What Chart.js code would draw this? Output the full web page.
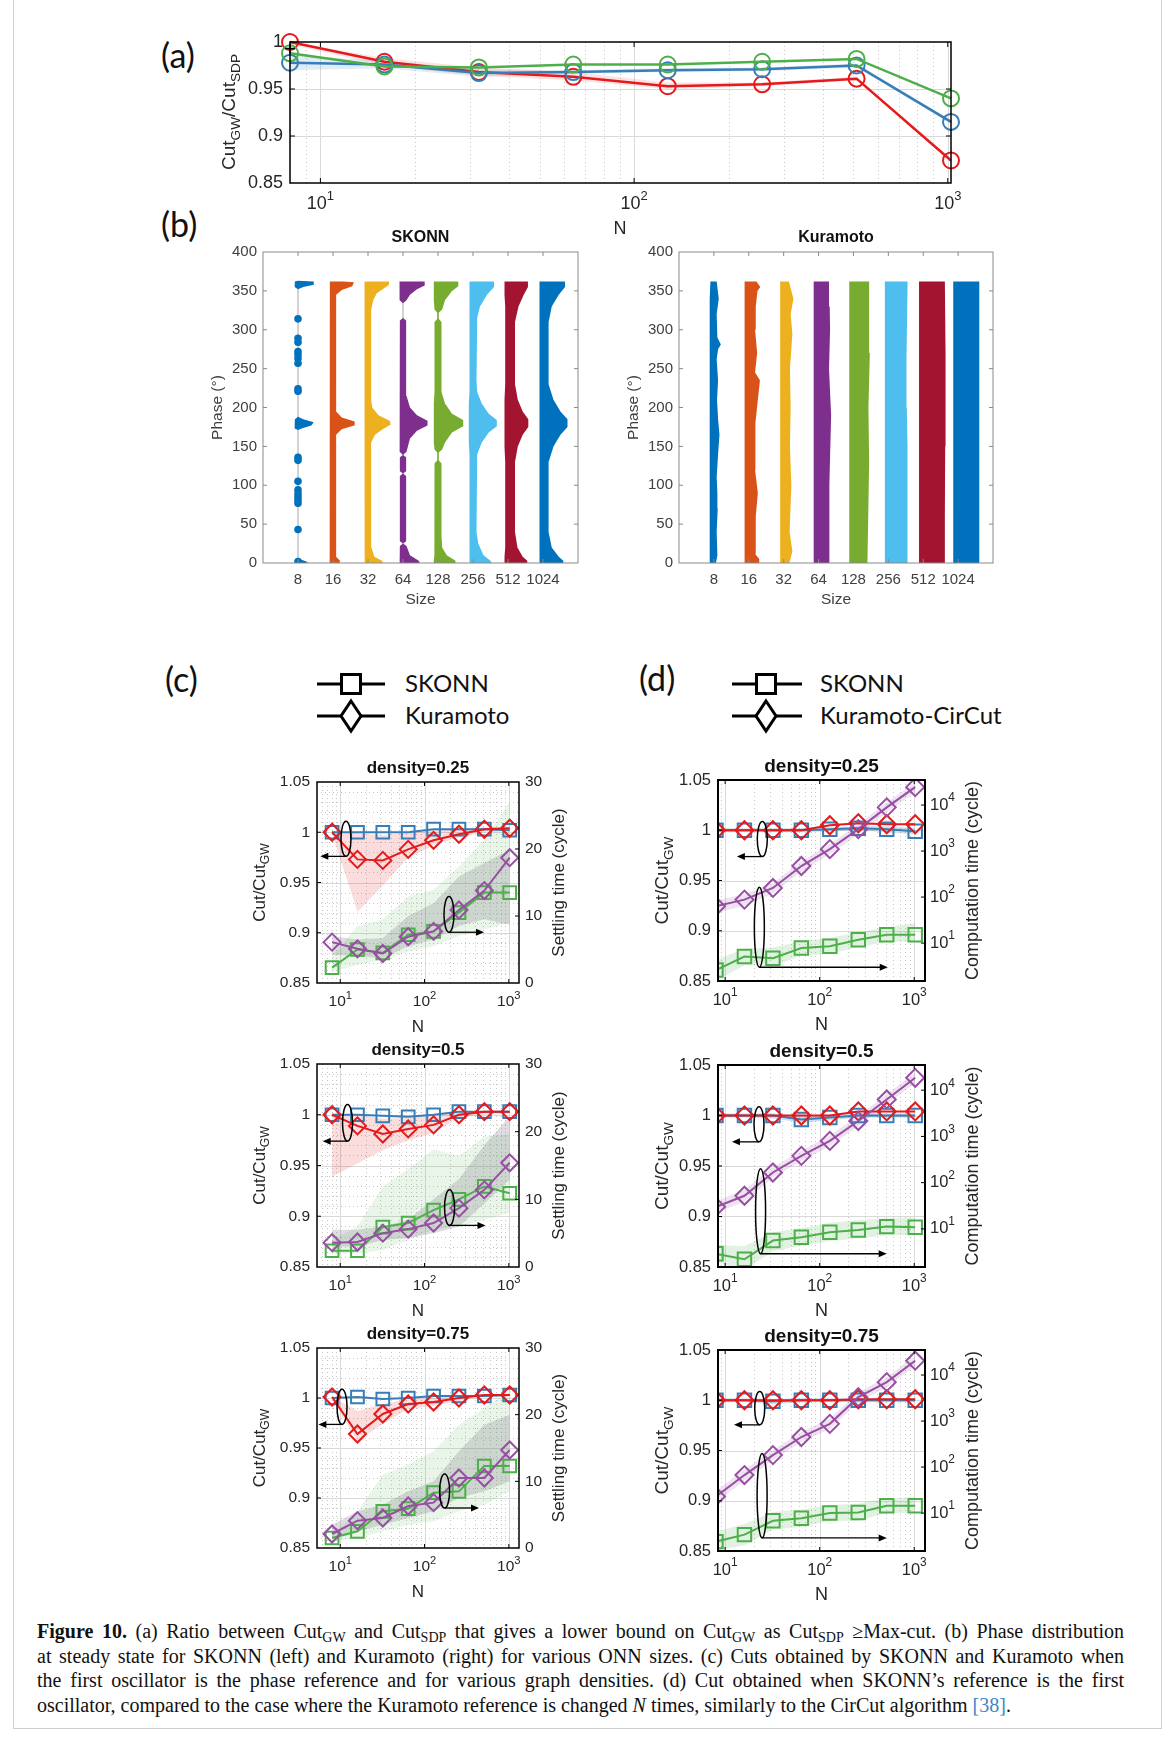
<!DOCTYPE html>
<html>
<head>
<meta charset="utf-8">
<title>Figure 10</title>
<script src="https://cdn.jsdelivr.net/npm/chart.js@4.4.1/dist/chart.umd.min.js"></script>
<style>
  body { margin: 0; background: #fff; }
  #page { position: relative; width: 1170px; height: 1737px; overflow: hidden; background: #fff; }
  #page canvas { position: absolute; }
  #border { position: absolute; left: 13px; top: -2px; width: 1149px; height: 1731px; border: 1px solid #cfcfcf; box-sizing: border-box; }
  .panel { position: absolute; font-family: Lato, 'Open Sans', sans-serif; font-size: 34px; line-height: 34px; color: #111; z-index: 5; }
  .leg { position: absolute; font-family: Lato, 'Open Sans', sans-serif; font-size: 24px; line-height: 24px; color: #111; white-space: nowrap; z-index: 5; }
  .legsym { position: absolute; z-index: 5; }
  #caption { position: absolute; left: 37px; top: 1619px; width: 1087px; font-family: 'Liberation Serif', 'Times New Roman', serif; font-size: 20px; line-height: 24.5px; color: #111; }
  #caption div { text-align: justify; text-align-last: justify; }
  #caption div.last { text-align-last: left; }
  #caption sub { font-size: 70%; line-height: 0; vertical-align: -0.25em; }
  #caption .ref { color: #3b86c6; }
</style>
</head>
<body>
<div id="page">
  <div id="border"></div>
  <div class="panel" style="left:161px;top:38px">(a)</div>
  <div class="panel" style="left:161px;top:207px">(b)</div>
  <div class="panel" style="left:165px;top:662px">(c)</div>
  <div class="panel" style="left:639px;top:661px">(d)</div>

  <svg class="legsym" style="left:314px;top:664px" width="76" height="72">
    <line x1="3" y1="20" x2="71" y2="20" stroke="#000" stroke-width="3"/>
    <rect x="27.5" y="10.5" width="19" height="19" fill="#fff" stroke="#000" stroke-width="3"/>
    <line x1="3" y1="52" x2="71" y2="52" stroke="#000" stroke-width="3"/>
    <polygon points="37,37 47,52 37,67 27,52" fill="#fff" stroke="#000" stroke-width="3"/>
  </svg>
  <div class="leg" style="left:405px;top:671px">SKONN</div>
  <div class="leg" style="left:405px;top:703px">Kuramoto</div>

  <svg class="legsym" style="left:729px;top:664px" width="76" height="72">
    <line x1="3" y1="20" x2="73" y2="20" stroke="#000" stroke-width="3"/>
    <rect x="27.5" y="10.5" width="19" height="19" fill="#fff" stroke="#000" stroke-width="3"/>
    <line x1="3" y1="52" x2="73" y2="52" stroke="#000" stroke-width="3"/>
    <polygon points="37,37 47,52 37,67 27,52" fill="#fff" stroke="#000" stroke-width="3"/>
  </svg>
  <div class="leg" style="left:820px;top:671px">SKONN</div>
  <div class="leg" style="left:820px;top:703px">Kuramoto-CirCut</div>

  <div id="caption">
    <div><b>Figure 10.</b> (a) Ratio between Cut<sub>GW</sub> and Cut<sub>SDP</sub> that gives a lower bound on Cut<sub>GW</sub> as Cut<sub>SDP</sub> ≥Max-cut. (b) Phase distribution</div>
    <div>at steady state for SKONN (left) and Kuramoto (right) for various ONN sizes. (c) Cuts obtained by SKONN and Kuramoto when</div>
    <div>the first oscillator is the phase reference and for various graph densities. (d) Cut obtained when SKONN’s reference is the first</div>
    <div class="last">oscillator, compared to the case where the Kuramoto reference is changed <i>N</i> times, similarly to the CirCut algorithm <span class="ref">[38]</span>.</div>
  </div>
</div>

<script>
// ---------- data ----------
const Ns = [8, 16, 32, 64, 128, 256, 512, 1024];
const sizeLabels = ['8', '16', '32', '64', '128', '256', '512', '1024'];
const decades = [10, 100, 1000];
const timeDecades = [10, 100, 1000, 10000];

// (a) Cut_GW / Cut_SDP
const aRed = [1.0, 0.979, 0.968, 0.963, 0.953, 0.955, 0.961, 0.874];
const aBlue = [0.978, 0.976, 0.967, 0.968, 0.970, 0.971, 0.975, 0.915];
const aGreen = [0.988, 0.974, 0.973, 0.976, 0.976, 0.979, 0.982, 0.940];
const aRedHi = [1.0, 0.983, 0.973, 0.968, 0.957, 0.957, 0.963, 0.876];
const aRedLo = [0.997, 0.975, 0.964, 0.959, 0.950, 0.953, 0.959, 0.872];
const aBlueHi = [0.986, 0.980, 0.971, 0.970, 0.972, 0.973, 0.977, 0.917];
const aBlueLo = [0.970, 0.972, 0.963, 0.966, 0.968, 0.969, 0.973, 0.913];
const aCross = [{x: 8, y: 0.993}];

// (b) phase distributions: knots [phase, left width, right width] per size
const skonnShapes = [
  [[-3,0,0],[-1,0.09,0.1],[1,0.09,0.3],[4,0.09,0.12],[6,0,0],[171,0,0],[173,0.09,0.1],[177,0.1,0.38],[181,0.1,0.45],[185,0.09,0.15],[188,0,0],[352,0,0],[355,0.09,0.15],[358,0.1,0.45],[362,0.09,0.45],[363,0,0]],
  [[-2,0.09,0.18],[3,0.09,0.2],[8,0.09,0.09],[165,0.09,0.09],[172,0.1,0.25],[177,0.1,0.6],[182,0.1,0.62],[187,0.1,0.25],[195,0.09,0.09],[345,0.09,0.09],[351,0.1,0.25],[356,0.1,0.55],[361,0.1,0.6],[362,0.09,0.3]],
  [[-2,0.1,0.45],[3,0.1,0.4],[8,0.09,0.18],[20,0.09,0.1],[36,0.09,0.09],[155,0.09,0.09],[165,0.1,0.2],[172,0.1,0.42],[178,0.1,0.65],[183,0.1,0.62],[190,0.1,0.3],[200,0.09,0.12],[210,0.09,0.09],[325,0.09,0.09],[338,0.1,0.15],[347,0.1,0.25],[353,0.1,0.45],[358,0.1,0.6],[362,0.1,0.6]],
  [[-2,0.1,0.5],[3,0.1,0.45],[10,0.09,0.2],[22,0.09,0.1],[25,0,0],[28,0.09,0.09],[112,0.09,0.09],[115,0,0],[118,0.09,0.09],[136,0.09,0.09],[139,0,0],[143,0.09,0.1],[160,0.1,0.2],[170,0.1,0.4],[177,0.1,0.7],[183,0.1,0.7],[190,0.1,0.4],[200,0.1,0.2],[215,0.09,0.1],[230,0.09,0.09],[312,0.09,0.09],[315,0,0],[334,0,0],[338,0.09,0.1],[345,0.1,0.2],[352,0.1,0.4],[357,0.1,0.62],[362,0.1,0.62]],
  [[-2,0.12,0.5],[3,0.12,0.5],[10,0.11,0.25],[20,0.1,0.12],[35,0.1,0.1],[128,0.1,0.1],[132,0.02,0.02],[142,0.02,0.02],[146,0.1,0.12],[155,0.12,0.2],[168,0.12,0.4],[176,0.12,0.72],[184,0.12,0.72],[192,0.12,0.4],[205,0.12,0.2],[220,0.1,0.1],[310,0.1,0.1],[314,0.02,0.02],[322,0.02,0.02],[326,0.1,0.12],[338,0.12,0.2],[350,0.12,0.4],[356,0.12,0.58],[362,0.12,0.58]],
  [[-2,0.1,0.55],[3,0.1,0.5],[10,0.1,0.3],[25,0.1,0.15],[40,0.1,0.1],[140,0.1,0.12],[155,0.12,0.25],[168,0.12,0.45],[176,0.12,0.68],[184,0.12,0.68],[192,0.12,0.45],[205,0.12,0.25],[220,0.1,0.12],[235,0.1,0.1],[315,0.1,0.12],[330,0.1,0.2],[345,0.1,0.4],[355,0.1,0.6],[362,0.1,0.6]],
  [[-2,0.1,0.55],[3,0.1,0.55],[8,0.1,0.42],[20,0.08,0.27],[40,0.08,0.2],[130,0.08,0.2],[150,0.1,0.28],[165,0.1,0.42],[175,0.1,0.58],[185,0.1,0.58],[195,0.1,0.42],[210,0.1,0.28],[230,0.08,0.2],[310,0.08,0.2],[330,0.08,0.3],[345,0.1,0.45],[355,0.1,0.57],[362,0.1,0.57]],
  [[-2,0.1,0.58],[3,0.1,0.58],[8,0.1,0.45],[20,0.1,0.25],[40,0.1,0.16],[130,0.1,0.16],[150,0.1,0.3],[165,0.1,0.5],[175,0.1,0.7],[185,0.1,0.7],[195,0.1,0.5],[210,0.1,0.3],[230,0.1,0.16],[310,0.1,0.16],[330,0.1,0.25],[345,0.1,0.45],[355,0.1,0.63],[362,0.1,0.63]]
];
const skonnDots = [
  [2, 43, 77, 81, 85, 89, 94, 105, 132, 136, 221, 224, 257, 263, 268, 272, 284, 289, 314],
  [], [], [], [], [], [], []
];
const kuraShapes = [
  [[-2,0.12,0.05],[10,0.12,0.1],[40,0.12,0.08],[70,0.12,0.11],[90,0.12,0.1],[110,0.12,0.08],[140,0.12,0.12],[165,0.12,0.16],[185,0.12,0.12],[210,0.12,0.09],[235,0.12,0.12],[262,0.12,0.08],[275,0.12,0.12],[281,0.12,0.2],[290,0.12,0.1],[320,0.12,0.08],[340,0.12,0.14],[362,0.1,0.08]],
  [[-2,0.12,0.3],[5,0.12,0.3],[12,0.12,0.18],[60,0.12,0.2],[90,0.12,0.26],[120,0.12,0.18],[150,0.12,0.2],[180,0.12,0.18],[235,0.12,0.32],[245,0.12,0.18],[270,0.12,0.24],[300,0.12,0.18],[330,0.12,0.2],[350,0.12,0.25],[355,0.12,0.33],[362,0.12,0.22]],
  [[-2,0.1,0.15],[15,0.1,0.25],[40,0.1,0.17],[100,0.1,0.22],[150,0.1,0.18],[200,0.1,0.2],[250,0.1,0.18],[295,0.1,0.25],[320,0.1,0.2],[340,0.1,0.28],[362,0.1,0.15]],
  [[-2,0.14,0.3],[40,0.14,0.32],[100,0.14,0.3],[190,0.14,0.36],[250,0.14,0.3],[300,0.14,0.33],[330,0.14,0.32],[362,0.14,0.3]],
  [[-2,0.12,0.4],[50,0.12,0.42],[130,0.12,0.45],[200,0.12,0.43],[270,0.12,0.47],[330,0.12,0.45],[362,0.12,0.45]],
  [[-2,0.1,0.55],[60,0.1,0.55],[150,0.1,0.55],[200,0.1,0.53],[260,0.1,0.52],[355,0.1,0.55],[362,0.1,0.55]],
  [[-2,0.12,0.62],[60,0.12,0.62],[150,0.12,0.63],[270,0.12,0.64],[362,0.12,0.62]],
  [[-2,0.14,0.6],[60,0.14,0.6],[255,0.14,0.62],[362,0.14,0.6]]
];

// (c) first oscillator as reference: cut ratio (left) and settling time (right)
const c25Blue = [1.0, 1.0, 1.0, 1.0, 1.003, 1.003, 1.003, 1.002];
const c25Red = [1.0, 0.973, 0.972, 0.983, 0.992, 0.998, 1.003, 1.004];
const c25RedHi = [1.001, 0.999, 0.997, 1.0, 1.002, 1.004, 1.005, 1.005];
const c25RedLo = [0.999, 0.921, 0.947, 0.975, 0.987, 0.995, 1.0, 1.002];
const c25Green = [2.3, 5.0, 4.5, 7.2, 7.7, 10.5, 13.5, 13.5];
const c25GreenHi = [4.0, 8.5, 9.5, 12.9, 13.9, 17.4, 21.4, 27.0];
const c25GreenLo = [1.7, 2.7, 3.5, 4.7, 5.5, 7.0, 8.0, 9.0];
const c25Purple = [6.1, 5.1, 4.4, 6.9, 7.7, 10.9, 13.8, 18.7];
const c25PurpleHi = [7.0, 6.5, 6.7, 10.0, 11.9, 15.9, 17.9, 19.9];
const c25PurpleLo = [4.2, 4.0, 3.7, 5.5, 6.5, 8.5, 9.5, 8.7];

const c50Blue = [1.0, 1.0, 0.999, 0.998, 1.0, 1.003, 1.003, 1.003];
const c50Red = [1.0, 0.989, 0.981, 0.986, 0.990, 1.0, 1.003, 1.003];
const c50RedHi = [1.001, 1.0, 0.996, 0.997, 1.0, 1.003, 1.004, 1.004];
const c50RedLo = [0.939, 0.952, 0.965, 0.975, 0.982, 0.997, 1.0, 1.001];
const c50Green = [2.4, 2.4, 5.9, 6.5, 8.4, 10.0, 11.9, 10.9];
const c50GreenHi = [4.0, 6.0, 11.9, 14.5, 17.4, 16.4, 19.3, 19.6];
const c50GreenLo = [2.0, 2.0, 2.5, 4.0, 5.5, 6.0, 7.0, 8.0];
const c50Purple = [3.6, 3.7, 5.0, 5.6, 6.5, 8.7, 11.4, 15.4];
const c50PurpleHi = [5.5, 5.5, 6.0, 7.0, 10.0, 13.0, 18.0, 22.3];
const c50PurpleLo = [3.0, 3.0, 4.0, 4.3, 5.0, 6.0, 9.4, 12.9];

const c75Blue = [1.0, 1.001, 0.999, 1.0, 1.002, 1.002, 1.002, 1.003];
const c75Red = [1.001, 0.964, 0.984, 0.994, 0.996, 1.0, 1.003, 1.003];
const c75RedHi = [1.001, 0.987, 0.994, 0.999, 1.0, 1.002, 1.004, 1.004];
const c75RedLo = [0.999, 0.957, 0.974, 0.989, 0.992, 0.997, 1.001, 1.002];
const c75Green = [1.5, 2.5, 5.5, 5.9, 8.3, 8.5, 12.3, 12.3];
const c75GreenHi = [2.0, 5.5, 11.0, 12.5, 14.5, 18.5, 21.0, 23.6];
const c75GreenLo = [1.0, 1.5, 2.5, 3.5, 4.0, 5.5, 6.5, 8.5];
const c75Purple = [2.1, 4.1, 4.5, 6.3, 6.8, 10.5, 10.5, 14.7];
const c75PurpleHi = [3.5, 5.5, 6.5, 8.5, 10.0, 14.5, 18.5, 20.0];
const c75PurpleLo = [1.5, 2.5, 3.5, 4.5, 5.5, 7.5, 8.5, 10.0];

// (d) Kuramoto-CirCut: cut ratio (left) and computation time (right, log)
const d25Blue = [1.0, 1.0, 1.0, 1.0, 1.001, 1.002, 1.001, 0.999];
const d25BlueHi = [1.002, 1.002, 1.002, 1.002, 1.003, 1.004, 1.004, 1.002];
const d25BlueLo = [0.998, 0.998, 0.998, 0.998, 0.999, 1.0, 0.998, 0.996];
const d25Red = [1.0, 1.0, 1.0, 1.0, 1.005, 1.007, 1.006, 1.006];
const d25Green = [2.6, 5.1, 4.7, 7.8, 8.5, 11.8, 15.2, 15.2];
const d25GreenHi = [4.3, 7.5, 8.0, 11.0, 13.0, 17.0, 22.0, 27.0];
const d25GreenLo = [1.5, 3.3, 3.1, 5.3, 5.8, 8.2, 10.5, 10.8];
const d25Purple = [63, 88, 158, 473, 1100, 3000, 8900, 24500];
const d25PurpleHi = [85, 115, 200, 600, 1400, 3800, 11500, 31000];
const d25PurpleLo = [45, 65, 120, 360, 850, 2300, 6900, 19000];

const d50Blue = [1.0, 1.0, 1.0, 0.996, 0.998, 1.0, 1.0, 1.0];
const d50BlueHi = [1.002, 1.002, 1.002, 0.999, 1.001, 1.002, 1.002, 1.002];
const d50BlueLo = [0.998, 0.998, 0.997, 0.993, 0.995, 0.998, 0.998, 0.998];
const d50Red = [1.0, 1.0, 1.0, 1.0, 1.0, 1.004, 1.004, 1.004];
const d50Green = [2.9, 2.2, 5.6, 6.6, 8.5, 9.5, 11.2, 10.9];
const d50GreenHi = [4.5, 4.2, 8.5, 10.5, 13.5, 15.5, 17.0, 17.5];
const d50GreenLo = [1.9, 1.3, 3.3, 4.3, 5.5, 6.2, 7.3, 7.2];
const d50Purple = [30, 52, 166, 380, 800, 2150, 6300, 18500];
const d50PurpleHi = [40, 70, 215, 490, 1050, 2800, 8200, 24000];
const d50PurpleLo = [22, 39, 128, 295, 620, 1650, 4900, 14500];

const d75Blue = [1.0, 1.0, 0.999, 1.0, 1.0, 1.0, 1.0, 1.0];
const d75BlueHi = [1.002, 1.002, 1.001, 1.002, 1.002, 1.002, 1.002, 1.002];
const d75BlueLo = [0.998, 0.998, 0.996, 0.998, 0.998, 0.998, 0.998, 0.998];
const d75Red = [1.0, 1.0, 1.0, 1.0, 1.0, 1.001, 1.001, 1.001];
const d75Green = [2.4, 3.4, 6.8, 7.7, 10.0, 10.3, 14.5, 14.5];
const d75GreenHi = [4.0, 5.8, 10.5, 12.0, 15.0, 16.0, 21.0, 22.0];
const d75GreenLo = [1.5, 2.0, 4.4, 5.0, 6.7, 6.8, 10.0, 10.0];
const d75Purple = [23, 67, 182, 450, 870, 3300, 7000, 20500];
const d75PurpleHi = [30, 88, 235, 580, 1120, 4200, 9000, 26500];
const d75PurpleLo = [17, 51, 140, 350, 670, 2550, 5400, 15800];

// ellipse + arrow marks: [N centre, top, bottom (left axis), arrow end N]
const noteC25 = [[11.7, 1.011, 0.976, 5.8], [195, 0.936, 0.9005, 508]];
const noteC50 = [[12.2, 1.010, 0.974, 6.2], [198, 0.926, 0.891, 529]];
const noteC75 = [[10.5, 1.0087, 0.9736, 5.5], [173, 0.924, 0.890, 443]];
const noteD25 = [[24.7, 1.0086, 0.9738, 13.3], [23, 0.9433, 0.8637, 525]];
const noteD50 = [[22.8, 1.0086, 0.9739, 11.8], [23.7, 0.9474, 0.8631, 511]];
const noteD75 = [[23.2, 1.0086, 0.9755, 12.4], [24.6, 0.947, 0.863, 511]];

// ---------- styles ----------
const cBlue = '#377EB8', cRed = '#E41A1C', cGreen = '#4DAF4A', cPurple = '#984EA3';
const violinColors = ['#0072BD', '#D95319', '#EDB120', '#7E2F8E', '#77AC30', '#4DBEEE', '#A2142F', '#0072BD'];
const sansFam = "'Liberation Sans', Arial, Helvetica, sans-serif";

Chart.defaults.font.family = sansFam;
Chart.defaults.color = '#262626';
Chart.defaults.animation = false;

// ---------- helpers ----------
function makeCanvas(id, area, m) {
  const c = document.createElement('canvas');
  c.id = id;
  const w = area.r - area.l + m.l + m.r, h = area.b - area.t + m.t + m.b;
  c.width = w; c.height = h;
  c.style.width = w + 'px'; c.style.height = h + 'px';
  c.style.left = (area.l - m.l) + 'px'; c.style.top = (area.t - m.t) + 'px';
  document.getElementById('page').appendChild(c);
  return {canvas: c, ox: area.l - m.l, oy: area.t - m.t};
}

function logGrid(min, max) {
  const major = [], minor = [];
  for (let e = Math.floor(Math.log10(min)); e <= Math.ceil(Math.log10(max)); e++) {
    for (let k = 1; k <= 9; k++) {
      const v = k * Math.pow(10, e);
      if (v < min || v > max) continue;
      (k === 1 ? major : minor).push(v);
    }
  }
  return {major, minor};
}

function linSteps(min, max, step) {
  const out = [];
  for (let v = min; v <= max + 1e-9; v += step) out.push(+v.toFixed(4));
  return out;
}

// text with sub/superscript parts; t.x, t.y in page coordinates
function richText(ctx, t, ox, oy) {
  const weight = t.bold ? 'bold ' : '';
  const font = mode => weight + (mode ? t.size * 0.72 : t.size).toFixed(1) + 'px ' + sansFam;
  let total = 0;
  t.parts.forEach(p => { ctx.font = font(p[1]); total += ctx.measureText(p[0]).width; });
  ctx.save();
  ctx.translate(t.x - ox, t.y - oy);
  if (t.rot) ctx.rotate(t.rot);
  ctx.fillStyle = t.color || '#262626';
  ctx.textBaseline = 'middle';
  ctx.textAlign = 'left';
  let cx = t.align === 'left' ? 0 : -total / 2;
  t.parts.forEach(p => {
    ctx.font = font(p[1]);
    const dy = p[1] === 'sub' ? t.size * 0.32 : p[1] === 'sup' ? -t.size * 0.42 : 0;
    ctx.fillText(p[0], cx, dy);
    cx += ctx.measureText(p[0]).width;
  });
  ctx.restore();
}

// grid, frame, notes, power-of-ten tick labels and texts for every chart
const deco = {};
const decoPlugin = {
  id: 'deco',
  beforeDatasetsDraw(chart) {
    const d = deco[chart.canvas.id];
    if (!d || !d.grid) return;
    const ctx = chart.ctx, a = chart.chartArea;
    ctx.save();
    d.grid.forEach(g => {
      const sc = chart.scales[g.axis];
      const horiz = sc.isHorizontal();
      const draw = (vals, dash, color) => vals.forEach(v => {
        const p = Math.round(sc.getPixelForValue(v)) + 0.5;
        if (horiz ? (p < a.left || p > a.right) : (p < a.top || p > a.bottom)) return;
        ctx.beginPath();
        ctx.setLineDash(dash);
        ctx.strokeStyle = color;
        ctx.lineWidth = 1;
        if (horiz) { ctx.moveTo(p, a.top); ctx.lineTo(p, a.bottom); }
        else { ctx.moveTo(a.left, p); ctx.lineTo(a.right, p); }
        ctx.stroke();
      });
      if (g.minor) draw(g.minor, [1, 3], '#c6c6c6');
      if (g.major) draw(g.major, [], '#d9d9d9');
    });
    ctx.restore();
  },
  afterDatasetsDraw(chart) {
    const d = deco[chart.canvas.id];
    if (!d) return;
    const ctx = chart.ctx, a = chart.chartArea;
    ctx.save();
    ctx.setLineDash([]);
    (d.notes || []).forEach(n => {
      const sx = chart.scales.x, sy = chart.scales.y;
      const cx = sx.getPixelForValue(n[0]), yt = sy.getPixelForValue(n[1]);
      const yb = sy.getPixelForValue(n[2]), xe = sx.getPixelForValue(n[3]);
      ctx.strokeStyle = '#000'; ctx.fillStyle = '#000';
      ctx.lineWidth = 1.5;
      ctx.beginPath();
      ctx.ellipse(cx, (yt + yb) / 2, 5, (yb - yt) / 2, 0, 0, Math.PI * 2);
      ctx.stroke();
      const dir = Math.sign(xe - cx);
      ctx.lineWidth = 1.3;
      ctx.beginPath(); ctx.moveTo(cx, yb); ctx.lineTo(xe - dir * 6, yb); ctx.stroke();
      ctx.beginPath(); ctx.moveTo(xe, yb); ctx.lineTo(xe - dir * 8, yb - 3.5); ctx.lineTo(xe - dir * 8, yb + 3.5); ctx.closePath(); ctx.fill();
    });
    const f = d.frame;
    if (f) {
      ctx.strokeStyle = f.color;
      ctx.lineWidth = 1;
      (f.ticks || []).forEach(t => {
        const sc = chart.scales[t.axis];
        t.values.forEach(v => {
          const p = sc.getPixelForValue(v);
          ctx.beginPath();
          if (sc.isHorizontal()) {
            ctx.moveTo(p, a.bottom); ctx.lineTo(p, a.bottom - t.len);
            ctx.moveTo(p, a.top); ctx.lineTo(p, a.top + t.len);
          } else {
            if (t.side !== 'right') { ctx.moveTo(a.left, p); ctx.lineTo(a.left + t.len, p); }
            if (t.side !== 'left') { ctx.moveTo(a.right, p); ctx.lineTo(a.right - t.len, p); }
          }
          ctx.stroke();
        });
      });
      ctx.lineWidth = f.width;
      ctx.strokeRect(a.left, a.top, a.right - a.left, a.bottom - a.top);
    }
    ctx.restore();
  },
  afterDraw(chart) {
    const d = deco[chart.canvas.id];
    if (!d) return;
    const a = chart.chartArea;
    (d.powTicks || []).forEach(pt => {
      const sc = chart.scales[pt.axis];
      sc.ticks.forEach(tk => {
        const p = sc.getPixelForValue(tk.value);
        const parts = [['10'], [String(Math.round(Math.log10(tk.value))), 'sup']];
        if (sc.isHorizontal()) {
          richText(chart.ctx, {parts, x: p + d.ox, y: a.bottom + pt.off + d.oy, size: pt.size}, d.ox, d.oy);
        } else {
          richText(chart.ctx, {parts, x: a.right + pt.off + d.ox, y: p + d.oy, size: pt.size, align: 'left'}, d.ox, d.oy);
        }
      });
    });
    (d.texts || []).forEach(t => richText(chart.ctx, t, d.ox, d.oy));
  }
};

function baseOptions(m, hasRight) {
  return {
    responsive: false, devicePixelRatio: 1, animation: false, events: [],
    layout: {padding: {top: m.t, left: 0, right: hasRight ? 0 : m.r, bottom: 0}},
    plugins: {legend: {display: false}, tooltip: {enabled: false}},
    scales: {}
  };
}

function pts(arr) { return Ns.map((n, i) => ({x: n, y: arr[i]})); }

// log axis: ticks at the decades, their labels are drawn as 10 with a raised exponent
function logXAxis(min, max, m) {
  return {
    type: 'logarithmic', position: 'bottom', min, max,
    afterFit: s => { s.height = m.b; },
    afterBuildTicks: s => { s.ticks = decades.map(v => ({value: v})); },
    grid: {display: false, drawTicks: false}, border: {display: false},
    ticks: {callback: () => '', maxRotation: 0, minRotation: 0, autoSkip: false}
  };
}

// ---------- (a) ----------
(function () {
  const area = {l: 290, t: 42, r: 951, b: 183}, m = {l: 85, t: 24, r: 30, b: 62};
  const pos = makeCanvas('chartA', area, m);
  const series = (arr, color, order) => ({
    data: pts(arr), borderColor: color, borderWidth: 2.5, pointStyle: 'circle', pointRadius: 8,
    pointBorderWidth: 2, pointBorderColor: color, pointBackgroundColor: 'rgba(0,0,0,0)', clip: false, order
  });
  const band = (hi, lo, color, order) => [
    {data: pts(hi), fill: '+1', backgroundColor: color, borderWidth: 0, pointRadius: 0, order},
    {data: pts(lo), fill: false, borderWidth: 0, pointRadius: 0, order}
  ];
  const lg = logGrid(8, 1024);
  deco.chartA = {
    ox: pos.ox, oy: pos.oy,
    grid: [{axis: 'x', major: lg.major, minor: lg.minor}, {axis: 'y', major: [0.9, 0.95]}],
    frame: {color: '#000', width: 1.5, ticks: [{axis: 'x', values: lg.major, len: 5}, {axis: 'y', values: [0.9, 0.95], len: 5}]},
    powTicks: [{axis: 'x', off: 21, size: 18}],
    texts: [
      {parts: [['Cut'], ['GW', 'sub'], ['/Cut'], ['SDP', 'sub']], x: 230, y: 112, size: 19, rot: -Math.PI / 2},
      {parts: [['N']], x: 620, y: 229, size: 18}
    ]
  };
  const opts = baseOptions(m, false);
  opts.scales.x = logXAxis(8, 1024, m);
  opts.scales.y = {
    type: 'linear', position: 'left', min: 0.85, max: 1.0,
    afterFit: s => { s.width = m.l; },
    grid: {display: false, drawTicks: false}, border: {display: false},
    ticks: {stepSize: 0.05, callback: v => String(+v.toFixed(2)), padding: 7, font: {size: 18}, color: '#262626'}
  };
  new Chart(pos.canvas, {
    type: 'line',
    data: {datasets: [
      {data: aCross, showLine: false, pointStyle: 'cross', pointRadius: 5, pointBorderColor: '#000', pointBorderWidth: 1.5, order: 0, clip: false},
      series(aGreen, cGreen, 1),
      series(aBlue, cBlue, 2),
      series(aRed, cRed, 3),
      ...band(aRedHi, aRedLo, 'rgba(228,26,28,0.12)', 5),
      ...band(aBlueHi, aBlueLo, 'rgba(55,126,184,0.15)', 6)
    ]},
    options: opts,
    plugins: [decoPlugin]
  });
})();

// ---------- (b) ----------
function violinChart(id, area, title, shapes, dots, centerLines) {
  const m = {l: 65, t: 30, r: 20, b: 50};
  const pos = makeCanvas(id, area, m);
  const datasets = [];
  shapes.forEach((knots, i) => {
    const right = knots.map(k => ({x: i + k[2], y: k[0]}));
    const left = knots.slice().reverse().map(k => ({x: i - k[1], y: k[0]}));
    datasets.push({data: right.concat(left), fill: 'shape', backgroundColor: violinColors[i], borderWidth: 0, pointRadius: 0, order: 5});
  });
  if (dots) dots.forEach((ph, i) => {
    if (ph.length) datasets.push({data: ph.map(p => ({x: i, y: p})), showLine: false, pointRadius: 3.8, pointBorderWidth: 0, pointBackgroundColor: violinColors[i], order: 4});
  });
  if (centerLines) shapes.forEach((k, i) => datasets.push({data: [{x: i, y: 0}, {x: i, y: 360}], borderColor: '#a6a6a6', borderWidth: 1, pointRadius: 0, order: 9}));
  const cx = (area.l + area.r) / 2, cy = (area.t + area.b) / 2;
  deco[id] = {
    ox: pos.ox, oy: pos.oy,
    frame: {color: '#8a8a8a', width: 1, ticks: [{axis: 'x', values: [0, 1, 2, 3, 4, 5, 6, 7], len: 4}, {axis: 'y', values: linSteps(50, 350, 50), len: 4}]},
    texts: [
      {parts: [[title]], x: cx, y: area.t - 14, size: 16, bold: true, color: '#111'},
      {parts: [['Phase (°)']], x: area.l - 45, y: cy, size: 15.5, rot: -Math.PI / 2, color: '#404040'},
      {parts: [['Size']], x: cx, y: area.b + 37, size: 15.5, color: '#404040'}
    ]
  };
  const opts = baseOptions(m, false);
  opts.scales.x = {
    type: 'linear', position: 'bottom', min: -1, max: 8,
    afterFit: s => { s.height = m.b; },
    afterBuildTicks: s => { s.ticks = [0, 1, 2, 3, 4, 5, 6, 7].map(v => ({value: v})); },
    grid: {display: false, drawTicks: false}, border: {display: false},
    ticks: {callback: v => sizeLabels[v], padding: 8, maxRotation: 0, autoSkip: false, font: {size: 15}, color: '#404040'}
  };
  opts.scales.y = {
    type: 'linear', position: 'left', min: 0, max: 400,
    afterFit: s => { s.width = m.l; },
    grid: {display: false, drawTicks: false}, border: {display: false},
    ticks: {stepSize: 50, padding: 6, font: {size: 15}, color: '#404040'}
  };
  new Chart(pos.canvas, {type: 'line', data: {datasets}, options: opts, plugins: [decoPlugin]});
}
violinChart('chartSK', {l: 263, t: 252, r: 578, b: 563}, 'SKONN', skonnShapes, skonnDots, true);
violinChart('chartKU', {l: 679, t: 252, r: 993, b: 563}, 'Kuramoto', kuraShapes, null, false);

// ---------- (c) and (d) ----------
function cutChart(id, area, kind, title, s, notes) {
  const isD = kind === 'd';
  const m = isD ? {l: 75, t: 32, r: 68, b: 56} : {l: 75, t: 32, r: 55, b: 56};
  const pos = makeCanvas(id, area, m);
  const r = isD ? 9.5 : 9;
  const fs = isD ? 16.5 : 15.5;
  const line = (arr, color, style, axis, order) => ({
    data: pts(arr), yAxisID: axis, borderColor: color, borderWidth: 2, pointStyle: style,
    pointRadius: style === 'rect' ? r : r - 0.5, pointBorderColor: color,
    pointBackgroundColor: 'rgba(0,0,0,0)', pointBorderWidth: 2, order
  });
  const band = (hi, lo, color, axis, order) => [
    {data: pts(hi), yAxisID: axis, fill: '+1', backgroundColor: color, borderWidth: 0, pointRadius: 0, order},
    {data: pts(lo), yAxisID: axis, fill: false, borderWidth: 0, pointRadius: 0, order}
  ];
  const datasets = [
    line(s.purple, cPurple, 'rectRot', 'y2', 1),
    line(s.green, cGreen, 'rect', 'y2', 2),
    line(s.red, cRed, 'rectRot', 'y', 3),
    line(s.blue, cBlue, 'rect', 'y', 4),
    ...band(s.purpleHi, s.purpleLo, isD ? 'rgba(152,78,163,0.16)' : 'rgba(105,95,112,0.21)', 'y2', 6),
    ...band(s.greenHi, s.greenLo, isD ? 'rgba(77,175,74,0.16)' : 'rgba(77,175,74,0.13)', 'y2', 7)
  ];
  if (s.redHi) datasets.push(...band(s.redHi, s.redLo, 'rgba(228,26,28,0.15)', 'y', 5));
  if (s.blueHi) datasets.push(...band(s.blueHi, s.blueLo, 'rgba(55,126,184,0.25)', 'y', 8));

  const xmin = isD ? 8.4 : 5.3, xmax = isD ? 1300 : 1320;
  const lg = logGrid(xmin, xmax);
  const yMajor = [0.9, 0.95, 1.0];
  const grid = [{axis: 'x', major: lg.major, minor: lg.minor}, {axis: 'y', major: yMajor}];
  if (!isD) grid.push({axis: 'y', minor: linSteps(0.86, 1.04, 0.01).filter(v => Math.abs(v * 100 % 5) > 0.01)});
  const cx = (area.l + area.r) / 2, cy = (area.t + area.b) / 2;
  const powTicks = [{axis: 'x', off: 19, size: fs}];
  if (isD) powTicks.push({axis: 'y2', off: 5, size: fs});
  deco[id] = {
    ox: pos.ox, oy: pos.oy, grid, notes, powTicks,
    frame: {color: '#000', width: isD ? 2 : 1.5, ticks: [
      {axis: 'x', values: lg.major, len: 4},
      {axis: 'y', values: yMajor, len: 4, side: 'left'},
      {axis: 'y2', values: isD ? timeDecades : [10, 20], len: 4, side: 'right'}
    ]},
    texts: [
      {parts: [[title]], x: cx, y: area.t - (isD ? 13 : 14), size: isD ? 19 : 17, bold: true, color: '#111'},
      {parts: [['Cut/Cut'], ['GW', 'sub']], x: isD ? 663 : 260, y: cy, size: isD ? 19 : 17, rot: -Math.PI / 2},
      {parts: [[isD ? 'Computation time (cycle)' : 'Settling time (cycle)']], x: isD ? 973 : 559, y: cy, size: isD ? 18 : 17, rot: -Math.PI / 2},
      {parts: [['N']], x: cx, y: area.b + 44, size: isD ? 18 : 17}
    ]
  };
  const opts = baseOptions(m, true);
  opts.scales.x = logXAxis(xmin, xmax, m);
  opts.scales.y = {
    type: 'linear', position: 'left', min: 0.85, max: 1.05,
    afterFit: sc => { sc.width = m.l; },
    grid: {display: false, drawTicks: false}, border: {display: false},
    ticks: {stepSize: 0.05, callback: v => String(+v.toFixed(2)), padding: 7, font: {size: fs}, color: '#262626'}
  };
  opts.scales.y2 = isD ? {
    type: 'logarithmic', position: 'right', min: 1.5, max: 35000,
    afterFit: sc => { sc.width = m.r; },
    afterBuildTicks: sc => { sc.ticks = timeDecades.map(v => ({value: v})); },
    grid: {display: false, drawTicks: false}, border: {display: false},
    ticks: {callback: () => ''}
  } : {
    type: 'linear', position: 'right', min: 0, max: 30,
    afterFit: sc => { sc.width = m.r; },
    grid: {display: false, drawTicks: false}, border: {display: false},
    ticks: {stepSize: 10, padding: 6, font: {size: fs}, color: '#262626'}
  };
  new Chart(pos.canvas, {type: 'line', data: {datasets}, options: opts, plugins: [decoPlugin]});
}

cutChart('chartC1', {l: 317, t: 782, r: 519, b: 983}, 'c', 'density=0.25',
  {blue: c25Blue, red: c25Red, redHi: c25RedHi, redLo: c25RedLo, green: c25Green, greenHi: c25GreenHi, greenLo: c25GreenLo, purple: c25Purple, purpleHi: c25PurpleHi, purpleLo: c25PurpleLo}, noteC25);
cutChart('chartC2', {l: 317, t: 1064, r: 519, b: 1267}, 'c', 'density=0.5',
  {blue: c50Blue, red: c50Red, redHi: c50RedHi, redLo: c50RedLo, green: c50Green, greenHi: c50GreenHi, greenLo: c50GreenLo, purple: c50Purple, purpleHi: c50PurpleHi, purpleLo: c50PurpleLo}, noteC50);
cutChart('chartC3', {l: 317, t: 1348, r: 519, b: 1548}, 'c', 'density=0.75',
  {blue: c75Blue, red: c75Red, redHi: c75RedHi, redLo: c75RedLo, green: c75Green, greenHi: c75GreenHi, greenLo: c75GreenLo, purple: c75Purple, purpleHi: c75PurpleHi, purpleLo: c75PurpleLo}, noteC75);
cutChart('chartD1', {l: 718, t: 780, r: 925, b: 981}, 'd', 'density=0.25',
  {blue: d25Blue, blueHi: d25BlueHi, blueLo: d25BlueLo, red: d25Red, green: d25Green, greenHi: d25GreenHi, greenLo: d25GreenLo, purple: d25Purple, purpleHi: d25PurpleHi, purpleLo: d25PurpleLo}, noteD25);
cutChart('chartD2', {l: 718, t: 1065, r: 925, b: 1267}, 'd', 'density=0.5',
  {blue: d50Blue, blueHi: d50BlueHi, blueLo: d50BlueLo, red: d50Red, green: d50Green, greenHi: d50GreenHi, greenLo: d50GreenLo, purple: d50Purple, purpleHi: d50PurpleHi, purpleLo: d50PurpleLo}, noteD50);
cutChart('chartD3', {l: 718, t: 1350, r: 925, b: 1551}, 'd', 'density=0.75',
  {blue: d75Blue, blueHi: d75BlueHi, blueLo: d75BlueLo, red: d75Red, green: d75Green, greenHi: d75GreenHi, greenLo: d75GreenLo, purple: d75Purple, purpleHi: d75PurpleHi, purpleLo: d75PurpleLo}, noteD75);
</script>
</body>
</html>
